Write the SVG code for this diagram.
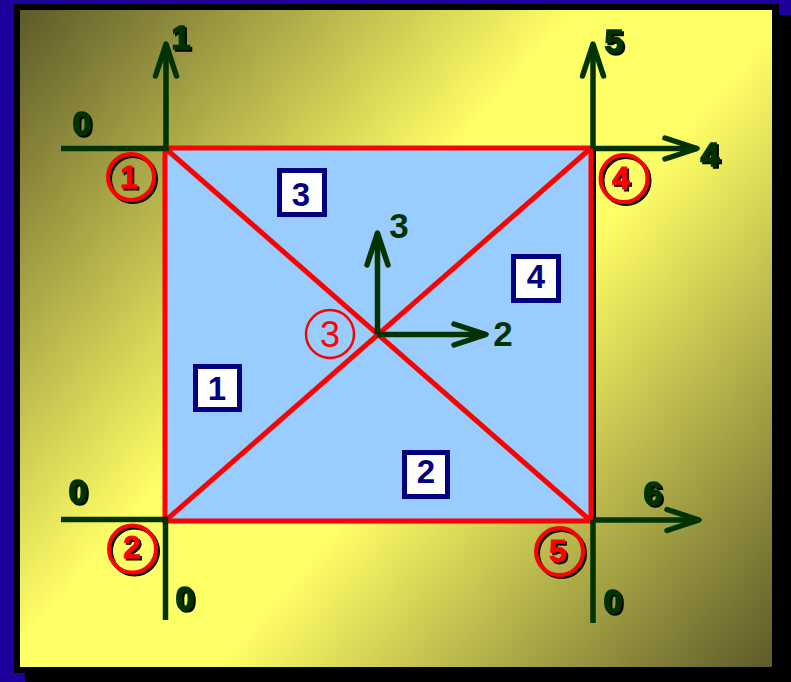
<svg xmlns="http://www.w3.org/2000/svg" width="791" height="682" viewBox="0 0 791 682">
<defs>
<linearGradient id="bg" gradientUnits="userSpaceOnUse" x1="20" y1="10" x2="772" y2="667">
<stop offset="0" stop-color="#5e5a2a"/>
<stop offset="0.42" stop-color="#ffff66"/>
<stop offset="0.58" stop-color="#ffff66"/>
<stop offset="1" stop-color="#5e5a2a"/>
</linearGradient>
<filter id="sh" x="-20%" y="-20%" width="150%" height="150%">
<feDropShadow dx="2" dy="2" stdDeviation="0" flood-color="#000" flood-opacity="1"/>
</filter>
<marker id="ah" markerUnits="userSpaceOnUse" viewBox="-40 -16 46 32" markerWidth="46" markerHeight="32" refX="0" refY="0" orient="auto" overflow="visible">
<path d="M-32,-10.5 L0,0 L-32,10.5" fill="none" stroke="#003300" stroke-width="5.5" stroke-linecap="round" stroke-linejoin="round"/>
</marker>
</defs>
<style>
.ax{fill:none;stroke:#003300;stroke-width:5.5}
.arr{marker-end:url(#ah)}
.mesh{fill:none;stroke:#ff0000;stroke-width:5}
.lbl{font-family:"Liberation Sans",Arial,sans-serif;font-weight:bold;font-size:34px;fill:#003300;stroke:#003300;stroke-width:1.6;text-anchor:middle}
.clbl{font-family:"Liberation Sans",Arial,sans-serif;font-weight:bold;font-size:35px;fill:#003300;text-anchor:middle}
.ring{fill:none;stroke:#ff0000;stroke-width:4}
.num{font-family:"Liberation Sans",Arial,sans-serif;font-weight:bold;font-size:32px;fill:#ff0000;stroke:#ff0000;stroke-width:0.8;text-anchor:middle}
.box{fill:#ffffff;stroke:#000080;stroke-width:5}
.el{font-family:"Liberation Sans",Arial,sans-serif;font-weight:bold;font-size:33px;fill:#000080;text-anchor:middle}
</style>
<rect x="0" y="0" width="791" height="682" fill="#1e009c"/>
<rect x="25" y="15" width="766" height="667" fill="#000"/>
<rect x="14" y="4" width="765" height="669" fill="#000"/>
<rect x="20" y="10" width="752" height="657" fill="url(#bg)"/>

<g id="mesh">
<line x1="594.5" y1="148" x2="594.5" y2="520" stroke="#000" stroke-width="3"/>
<rect x="165" y="148" width="426" height="373" fill="#99ccff"/>
<rect class="mesh" x="165" y="148" width="426" height="373"/>
<line class="mesh" x1="165" y1="148" x2="591" y2="521"/>
<line class="mesh" x1="165" y1="521" x2="591" y2="148"/>
</g>

<g id="connectors">
<path class="ax arr" d="M61,148.5 H166 V44"/>
<path class="ax arr" d="M593,148.5 V44"/>
<path class="ax arr" d="M593,148.5 H697"/>
<path class="ax" d="M61,519.5 H165.5 V620"/>
<path class="ax arr" d="M593,520 H699"/>
<path class="ax" d="M593,520 V623"/>
<path class="ax arr" d="M377.5,334.5 V233"/>
<path class="ax arr" d="M377.5,334.5 H486"/>
</g>

<g id="labels" filter="url(#sh)">
<text class="lbl" x="181" y="49">1</text>
<text class="lbl" x="82" y="135">0</text>
<text class="lbl" x="614" y="53">5</text>
<text class="lbl" x="710" y="166">4</text>
<text class="lbl" x="78" y="503">0</text>
<text class="lbl" x="185" y="610">0</text>
<text class="lbl" x="653" y="505">6</text>
<text class="lbl" x="613" y="613">0</text>
</g>
<g id="center-labels">
<text class="clbl" x="399" y="238">3</text>
<text class="clbl" x="503" y="346">2</text>
</g>

<g id="node1" filter="url(#sh)">
<circle class="ring" cx="131" cy="177" r="23"/>
<text class="num" x="129" y="188">1</text>
</g>
<g id="node2" filter="url(#sh)">
<circle class="ring" cx="132.5" cy="549" r="23.5"/>
<text class="num" x="132" y="558">2</text>
</g>
<g id="node3">
<circle cx="330" cy="334" r="24" fill="none" stroke="#ff0000" stroke-width="2.5"/>
<text x="330" y="347" style="font-family:'Liberation Sans',Arial,sans-serif;font-size:36px;fill:#ff0000;text-anchor:middle">3</text>
</g>
<g id="node4" filter="url(#sh)">
<circle class="ring" cx="624" cy="178.5" r="23.5"/>
<text class="num" x="621" y="189">4</text>
</g>
<g id="node5" filter="url(#sh)">
<circle class="ring" cx="559.5" cy="551.5" r="23.5"/>
<text class="num" x="558" y="562">5</text>
</g>

<g id="elem1">
<rect class="box" x="195.5" y="366.5" width="44" height="43"/>
<text class="el" x="217" y="400">1</text>
</g>
<g id="elem2">
<rect class="box" x="404.5" y="452.5" width="43" height="44"/>
<text class="el" x="426" y="483">2</text>
</g>
<g id="elem3">
<rect class="box" x="279.5" y="170.5" width="45" height="44"/>
<text class="el" x="301" y="206">3</text>
</g>
<g id="elem4">
<rect class="box" x="513.5" y="256.5" width="45" height="44"/>
<text class="el" x="536" y="288">4</text>
</g>
</svg>
